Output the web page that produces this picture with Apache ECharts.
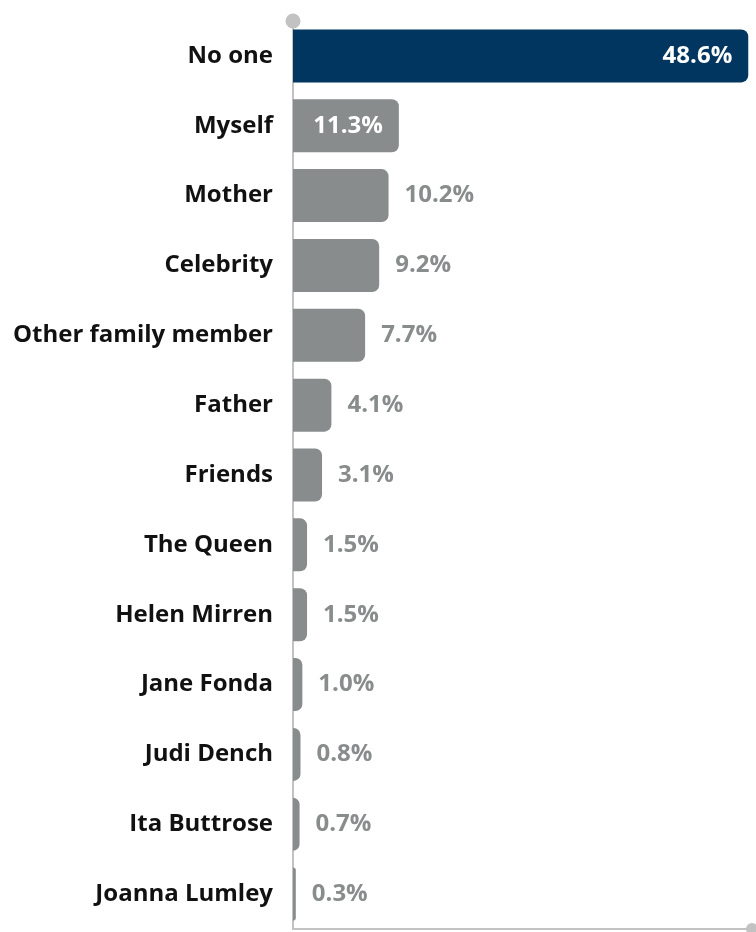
<!DOCTYPE html>
<html>
<head>
<meta charset="utf-8">
<script src="https://cdn.jsdelivr.net/npm/echarts@6/dist/echarts.min.js"></script>
<style>
  html, body { margin: 0; padding: 0; background: #ffffff; }
  #chart { width: 756px; height: 932px; }
</style>
</head>
<body>
<div id="chart"></div>
<script>
// Who people look up to, share of respondents (%)
const categories = [
  'No one', 'Myself', 'Mother', 'Celebrity', 'Other family member', 'Father',
  'Friends', 'The Queen', 'Helen Mirren', 'Jane Fonda', 'Judi Dench',
  'Ita Buttrose', 'Joanna Lumley'
];
const values = [48.6, 11.3, 10.2, 9.2, 7.7, 4.1, 3.1, 1.5, 1.5, 1.0, 0.8, 0.7, 0.3];

const NAVY = '#00365f';
const GREY = '#898c8c';
const AXIS = '#c2c2c2';
const FONT = '"Open Sans", "Noto Sans", sans-serif';

// Top two bars carry their label inside; the rest sit to the right in grey
const seriesData = values.map((v, i) => {
  const item = { value: v, itemStyle: { color: i === 0 ? NAVY : GREY } };
  if (i < 2) {
    item.label = { position: 'insideRight', color: '#ffffff', distance: 16 };
  }
  return item;
});

const chart = echarts.init(document.getElementById('chart'), null, { renderer: 'canvas' });
chart.setOption({
  animation: false,
  grid: { left: 293, right: 4, top: 21, bottom: 3, containLabel: false },
  xAxis: {
    type: 'value',
    min: 0,
    max: 49,
    splitLine: { show: false },
    axisTick: { show: false },
    axisLabel: { show: false },
    axisLine: {
      show: true,
      lineStyle: { color: AXIS, width: 2 },
      symbol: ['none', 'circle'],
      symbolSize: [12, 12]
    }
  },
  yAxis: {
    type: 'category',
    data: categories,
    inverse: true,
    axisTick: { show: false },
    axisLine: {
      show: true,
      lineStyle: { color: AXIS, width: 2 },
      symbol: ['none', 'circle'],
      symbolSize: [15, 15]
    },
    axisLabel: {
      color: '#111111',
      fontFamily: FONT,
      fontWeight: 'bold',
      fontSize: 24,
      margin: 20,
      padding: [4, 0, 0, 0]
    }
  },
  series: [{
    type: 'bar',
    data: seriesData,
    barWidth: 53,
    itemStyle: { borderRadius: [0, 7, 7, 0] },
    label: {
      show: true,
      position: 'right',
      distance: 16,
      color: GREY,
      fontFamily: FONT,
      fontWeight: 'bold',
      fontSize: 24,
      padding: [4, 0, 0, 0],
      formatter: p => p.value.toFixed(1) + '%'
    }
  }]
});
</script>
</body>
</html>
